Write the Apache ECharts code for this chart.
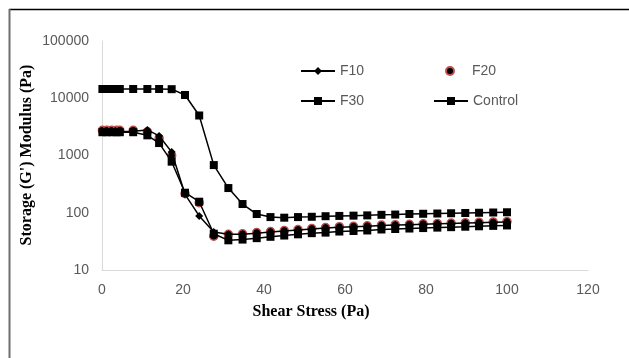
<!DOCTYPE html>
<html>
<head>
<meta charset="utf-8">
<script src="https://cdn.jsdelivr.net/npm/echarts@6/dist/echarts.min.js"></script>
<style>
  html, body { margin: 0; padding: 0; background: #fff; }
  #chart { width: 629px; height: 358px; }
</style>
</head>
<body>
<div id="chart"></div>
<script>
// Shear stress sweep (Pa)
const stress = [0.1, 1.2, 2.4, 3.6, 4.4, 7.7, 11.2, 14.1, 17.2, 20.5, 24.0, 27.6, 31.2, 34.7, 38.2, 41.6, 45.0,
  48.4, 51.8, 55.2, 58.6, 62.1, 65.5, 69.0, 72.4, 75.9, 79.3, 82.8, 86.2, 89.7, 93.1, 96.6, 100];

// Storage modulus G' (Pa) for each formulation
const f10 = [2600, 2600, 2600, 2600, 2600, 2650, 2800, 2200, 1150, 210, 88, 46, 42, 42, 44, 46, 48,
  50, 52, 54, 56, 57, 58, 60, 61, 62, 63, 64, 65, 66, 67, 68, 69];
const f20 = [2750, 2750, 2750, 2750, 2750, 2750, 2600, 2000, 1000, 215, 150, 39, 42, 43, 45, 47, 49,
  51, 53, 55, 57, 58, 59, 61, 62, 63, 64, 65, 66, 67, 68, 69, 70];
const f30 = [2550, 2550, 2550, 2550, 2550, 2550, 2250, 1650, 780, 224, 156, 43, 33, 34, 36, 38, 40,
  42, 44, 45, 47, 48, 49, 51, 52, 53, 54, 55, 56, 57, 58, 59, 60];
const control = [14500, 14500, 14500, 14500, 14500, 14500, 14500, 14500, 14400, 11400, 5000, 680, 270, 142, 95, 84, 82,
  84, 85, 87, 88, 89, 90, 92, 93, 95, 96, 97, 98, 99, 100, 101, 102];

// Axis ranges
const xTicks = { min: 0, max: 120, step: 20 };
const yTicks = { min: 10, max: 100000 };

const pairs = (ys) => stress.map((x, i) => [x, ys[i]]);

const labelColor = '#595959';
const sansFont = 'Liberation Sans';
const serifFont = 'Liberation Serif';

const chart = echarts.init(document.getElementById('chart'), null, { renderer: 'canvas' });

const legendBase = {
  itemWidth: 34,
  itemHeight: 10,
  padding: 0,
  textStyle: { color: labelColor, fontSize: 14, fontFamily: sansFont },
  selectedMode: false
};

chart.setOption({
  animation: false,
  backgroundColor: '#ffffff',
  grid: { left: 102, right: 41, top: 41, bottom: 88, containLabel: false },
  xAxis: {
    type: 'value',
    min: xTicks.min,
    max: xTicks.max,
    interval: xTicks.step,
    axisLine: { show: true, lineStyle: { color: '#d9d9d9', width: 1 } },
    axisTick: { show: false },
    splitLine: { show: false },
    axisLabel: { color: labelColor, fontSize: 14, fontFamily: sansFont, margin: 13 }
  },
  yAxis: {
    type: 'log',
    logBase: 10,
    min: yTicks.min,
    max: yTicks.max,
    axisLine: { show: true, lineStyle: { color: '#d9d9d9', width: 1 } },
    axisTick: { show: false },
    splitLine: { show: false },
    axisLabel: {
      color: labelColor, fontSize: 14, fontFamily: sansFont, margin: 13,
      formatter: (v) => String(Math.round(v))
    }
  },
  legend: [
    Object.assign({ left: 300, top: 64, data: ['F10'] }, legendBase),
    Object.assign({ left: 433, top: 64, data: ['F20'] }, legendBase),
    Object.assign({ left: 300, top: 94, data: ['F30'] }, legendBase),
    Object.assign({ left: 433, top: 94, data: ['Control'] }, legendBase)
  ],
  series: [
    {
      name: 'F20', type: 'line', data: pairs(f20),
      symbol: 'circle', symbolSize: 8,
      itemStyle: { color: '#000000', borderColor: '#c0504d', borderWidth: 1.5 },
      lineStyle: { width: 0, opacity: 0 },
      z: 2
    },
    {
      name: 'F10', type: 'line', data: pairs(f10),
      symbol: 'diamond', symbolSize: 8,
      itemStyle: { color: '#000000' },
      lineStyle: { color: '#000000', width: 1.5 },
      z: 3
    },
    {
      name: 'F30', type: 'line', data: pairs(f30),
      symbol: 'rect', symbolSize: 8,
      itemStyle: { color: '#000000' },
      lineStyle: { color: '#000000', width: 1.5 },
      z: 4
    },
    {
      name: 'Control', type: 'line', data: pairs(control),
      symbol: 'rect', symbolSize: 8,
      itemStyle: { color: '#000000' },
      lineStyle: { color: '#000000', width: 1.5 },
      z: 4
    }
  ],
  graphic: [
    // outer frame: top and left edges
    { type: 'line', shape: { x1: 9, y1: 9.5, x2: 629, y2: 9.5 }, style: { stroke: '#000000', lineWidth: 1.5 }, silent: true },
    { type: 'line', shape: { x1: 9.5, y1: 9, x2: 9.5, y2: 358 }, style: { stroke: '#6e6e6e', lineWidth: 2 }, silent: true },
    // axis titles
    {
      type: 'text', x: 311, y: 312,
      style: { text: 'Shear Stress (Pa)', fill: '#000000', font: 'bold 16px "' + serifFont + '"', align: 'center', verticalAlign: 'middle' },
      silent: true
    },
    {
      type: 'text', x: 27, y: 155, rotation: Math.PI / 2,
      style: { text: "Storage (G') Modulus (Pa)", fill: '#000000', font: 'bold 16px "' + serifFont + '"', align: 'center', verticalAlign: 'middle' },
      silent: true
    }
  ]
});
</script>
</body>
</html>
